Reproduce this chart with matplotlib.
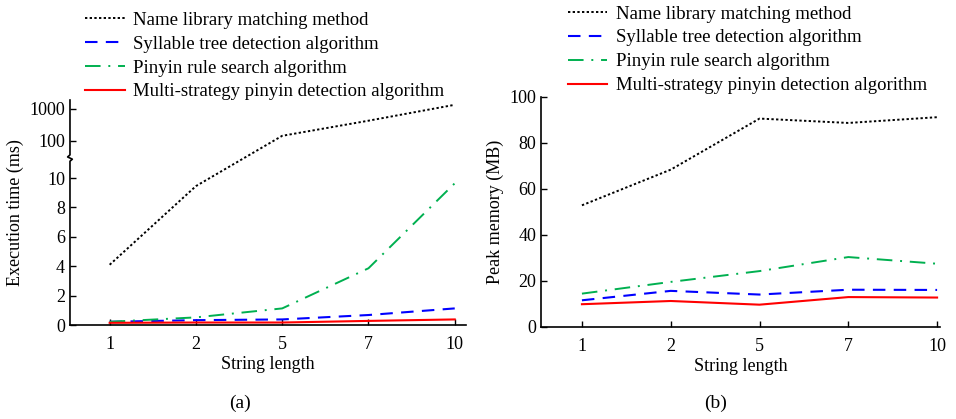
import numpy as np
import matplotlib
matplotlib.use("Agg")
import matplotlib.pyplot as plt
from matplotlib.lines import Line2D

plt.rcParams['font.family'] = ['Liberation Serif', 'DejaVu Serif']
plt.rcParams['font.size'] = 13

lengths = ["1", "2", "5", "7", "10"]
labels = ["Name library matching method",
          "Syllable tree detection algorithm",
          "Pinyin rule search algorithm",
          "Multi-strategy pinyin detection algorithm"]

# execution time (ms)
time_name = [4.1, 9.45, 145, 430, 1350]
time_syll = [0.22, 0.33, 0.38, 0.68, 1.13]
time_rule = [0.22, 0.52, 1.13, 3.86, 9.64]
time_multi = [0.15, 0.17, 0.17, 0.28, 0.38]

# peak memory (MB)
mem_name = [52.9, 68.4, 90.6, 88.7, 91.2]
mem_syll = [11.6, 15.7, 14.1, 16.2, 16.1]
mem_rule = [14.5, 19.6, 24.3, 30.4, 27.5]
mem_multi = [9.9, 11.3, 9.7, 13.0, 12.8]

styles = [dict(color="black", ls=(0, (1.2, 1.2)), lw=1.4),
          dict(color="#0000ff", ls=(0, (6, 4)), lw=1.5),
          dict(color="#00b050", ls=(0, (8, 4, 1, 4)), lw=1.4),
          dict(color="#ff0000", ls="-", lw=1.5)]

# broken y axis: linear 0-10, then log above
K = 32 / 14.7
F100 = 12.52
FB = 11.29
YB = 10 ** (2 - (F100 - FB) / K)


def fwd(y):
    y = np.asarray(y, float)
    mid = 10 + (y - 10) / (YB - 10) * (FB - 10)
    hi = F100 + K * (np.log10(np.maximum(y, 1e-6)) - 2)
    return np.where(y <= 10, y, np.where(y < YB, mid, hi))


def inv(f):
    f = np.asarray(f, float)
    mid = 10 + (f - 10) / (FB - 10) * (YB - 10)
    hi = 10 ** ((f - F100) / K + 2)
    return np.where(f <= 10, f, np.where(f < FB, mid, hi))


fig = plt.figure(figsize=(9.56, 4.19), dpi=100)
ax1 = fig.add_axes([0.0732, 0.2243, 0.4142, 0.537])
ax2 = fig.add_axes([0.566, 0.2196, 0.417, 0.549])

x = np.arange(len(lengths))

for ax in (ax1, ax2):
    ax.spines['top'].set_visible(False)
    ax.spines['right'].set_visible(False)
    ax.tick_params(direction='in', length=4, width=1, labelsize=13)
    ax.tick_params(axis='x', pad=8)
    ax.set_xticks(x)
    ax.set_xticklabels(lengths)
    ax.set_xlabel("String length", fontsize=13, labelpad=2)
    ax.spines['bottom'].set_linewidth(1.2)
    ax.spines['left'].set_linewidth(1.2)

# (a)
ax1.set_yscale('function', functions=(fwd, inv))
for series, st in zip([time_name, time_syll, time_rule, time_multi], styles):
    ax1.plot(x, series, **st)
ax1.set_xlim(-0.46, 4.13)
ax1.set_ylim(0, float(inv((325 - 100) / 14.7)))
ax1.set_yticks([0, 2, 4, 6, 8, 10, 100, 1000])
ax1.set_yticklabels(["0", "2", "4", "6", "8", "10", "100", "1000"])
ax1.minorticks_off()
ax1.set_ylabel("Execution time (ms)", fontsize=13, labelpad=4)
ax1.spines['left'].set_visible(False)
yb_top = 0.756
ax1.add_line(Line2D([0, 0, -0.006, 0.006, 0, 0],
                    [1, yb_top, yb_top - 0.009, yb_top - 0.019, yb_top - 0.028, 0],
                    transform=ax1.transAxes, color="black", lw=1.2, clip_on=False))

# (b)
for series, st in zip([mem_name, mem_syll, mem_rule, mem_multi], styles):
    ax2.plot(x, series, **st)
ax2.set_xlim(-0.46, 4.03)
ax2.set_ylim(0, 100)
ax2.set_yticks([0, 20, 40, 60, 80, 100])
ax2.set_ylabel("Peak memory (MB)", fontsize=13, labelpad=4)

handles = [Line2D([], [], **st) for st in styles]
leg_kw = dict(loc='upper left', frameon=False, fontsize=13.5, handlelength=2.1,
              handletextpad=0.45, labelspacing=0.36, borderaxespad=0.0)
fig.legend(handles, labels, bbox_to_anchor=(0.0815, 0.99), **leg_kw)
fig.legend(handles, labels, bbox_to_anchor=(0.586, 1.005), **leg_kw)

fig.text(0.251, 0.038, "(a)", ha='center', va='center', fontsize=14)
fig.text(0.749, 0.038, "(b)", ha='center', va='center', fontsize=14)

fig.savefig("out.png", dpi=100)
